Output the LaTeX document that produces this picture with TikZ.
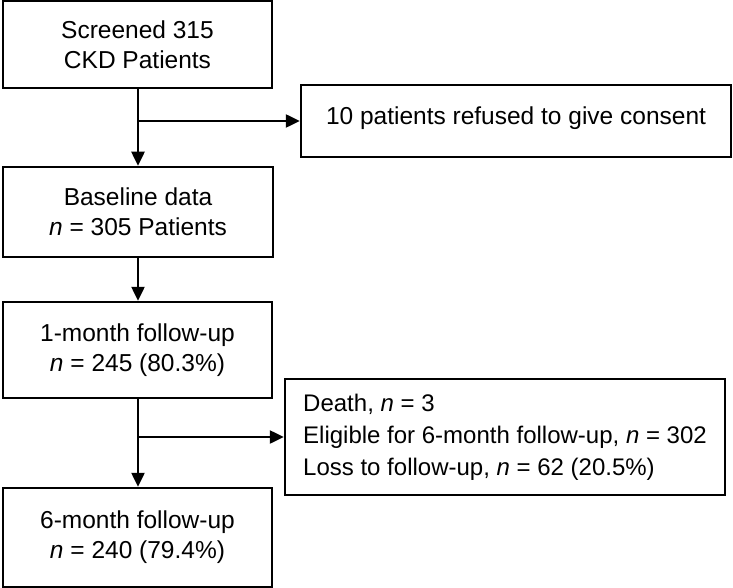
\documentclass[tikz,border=0pt]{standalone}
\usepackage{fontspec}
\setmainfont{Liberation Sans}
\usetikzlibrary{arrows.meta, positioning}

\begin{document}
\begin{tikzpicture}[
  x=1pt, y=-1pt,
  fbox/.style={draw, line width=2.5pt, align=center, inner sep=0pt, font=\fontsize{24.5pt}{30pt}\selectfont},
  sidebox/.style={draw, line width=2.5pt, align=left, inner sep=0pt, font=\fontsize{24pt}{32pt}\selectfont},
  flow/.style={line width=2.5pt, -{Triangle[length=14pt, width=13pt]}}
]
  \useasboundingbox (0,0) rectangle (733,588);
  \node[fbox, minimum width=269pt, minimum height=87pt] (screen) at (137.5, 44.5) {Screened 315\\CKD Patients};
  \node[fbox, minimum width=430pt, minimum height=72pt, text depth=11pt] (refused) at (516, 121) {10 patients refused to give consent};
  \node[fbox, minimum width=270pt, minimum height=90pt] (base) at (138, 212) {Baseline data\\\textit{n} = 305 Patients};
  \node[fbox, minimum width=269pt, minimum height=96pt] (month1) at (137.5, 350) {1-month follow-up\\\textit{n} = 245 (80.3\%)};
  \node[sidebox, minimum width=440pt, minimum height=116pt] (lost) at (505, 437) {Death, \textit{n} = 3\\Eligible for 6-month follow-up, \textit{n} = 302\\Loss to follow-up, \textit{n} = 62 (20.5\%)};
  \node[fbox, minimum width=269pt, minimum height=99pt] (month6) at (137.5, 537.5) {6-month follow-up\\\textit{n} = 240 (79.4\%)};

  \coordinate (split1) at (138, 121);
  \coordinate (split2) at (138, 437);

  \draw[flow] (screen.south -| split1) -- (base.north -| split1);
  \draw[flow] (split1) -- (refused.west);
  \draw[flow] (base.south -| split1) -- (month1.north -| split1);
  \draw[flow] (month1.south -| split2) -- (month6.north -| split2);
  \draw[flow] (split2) -- (lost.west);
\end{tikzpicture}
\end{document}
